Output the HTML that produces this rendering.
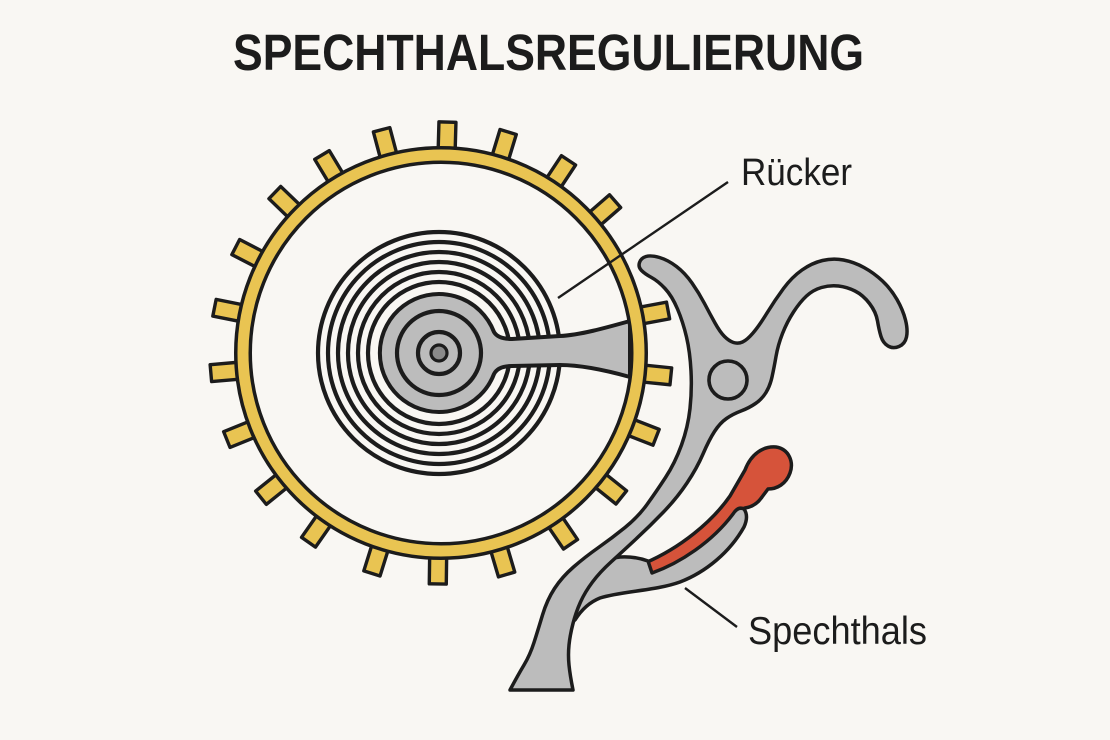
<!DOCTYPE html>
<html>
<head>
<meta charset="utf-8">
<style>
  html,body{margin:0;padding:0;background:#f9f7f3;}
  svg{display:block;}
</style>
</head>
<body>
<svg width="1110" height="740" viewBox="0 0 1110 740" xmlns="http://www.w3.org/2000/svg">
  <rect width="1110" height="740" fill="#f9f7f3"/>

  <!-- Title -->
  <text x="233" y="70" font-family="'Liberation Sans Narrow','Liberation Sans',sans-serif" font-weight="bold" font-size="51" fill="#1c1c1c" textLength="631" lengthAdjust="spacingAndGlyphs">SPECHTHALSREGULIERUNG</text>

  <!-- Teeth -->
  <g fill="#e9c452" stroke="#1c1c1c" stroke-width="3.4" stroke-linejoin="round">
    <rect x="-8.5" y="-231" width="17" height="28" transform="translate(441 353) rotate(1.6)"/>
    <rect x="-8.5" y="-231" width="17" height="28" transform="translate(441 353) rotate(-14.9)"/>
    <rect x="-8.5" y="-231" width="17" height="28" transform="translate(441 353) rotate(16.9)"/>
    <rect x="-8.5" y="-231" width="17" height="28" transform="translate(441 353) rotate(-31)"/>
    <rect x="-8.5" y="-231" width="17" height="28" transform="translate(441 353) rotate(33.5)"/>
    <rect x="-8.5" y="-231" width="17" height="28" transform="translate(441 353) rotate(-46)"/>
    <rect x="-8.5" y="-231" width="17" height="28" transform="translate(441 353) rotate(48.9)"/>
    <rect x="-8.5" y="-231" width="17" height="28" transform="translate(441 353) rotate(-62.7)"/>
    <rect x="-8.5" y="-231" width="17" height="28" transform="translate(441 353) rotate(-78.7)"/>
    <rect x="-8.5" y="-231" width="17" height="28" transform="translate(441 353) rotate(-95)"/>
    <rect x="-8.5" y="-231" width="17" height="28" transform="translate(441 353) rotate(-112)"/>
    <rect x="-8.5" y="-231" width="17" height="28" transform="translate(441 353) rotate(-128.8)"/>
    <rect x="-8.5" y="-231" width="17" height="28" transform="translate(441 353) rotate(-145)"/>
    <rect x="-8.5" y="-231" width="17" height="28" transform="translate(441 353) rotate(-162.6)"/>
    <rect x="-8.5" y="-231" width="17" height="28" transform="translate(441 353) rotate(180.8)"/>
    <rect x="-8.5" y="-231" width="17" height="28" transform="translate(441 353) rotate(163.5)"/>
    <rect x="-8.5" y="-231" width="17" height="28" transform="translate(441 353) rotate(145.9)"/>
    <rect x="-8.5" y="-231" width="17" height="28" transform="translate(441 353) rotate(128.7)"/>
    <rect x="-8.5" y="-231" width="17" height="28" transform="translate(441 353) rotate(111.4)"/>
    <rect x="-8.5" y="-231" width="17" height="28" transform="translate(441 353) rotate(95.8)"/>
    <rect x="-8.5" y="-231" width="17" height="28" transform="translate(441 353) rotate(79.4)"/>
  </g>

  <!-- Inner fill of wheel -->
  <circle cx="441" cy="353" r="190" fill="#f9f7f3"/>

  <!-- Hairspring rings -->
  <g fill="none" stroke="#1c1c1c" stroke-width="4.2">
    <circle cx="439" cy="353" r="121"/>
    <circle cx="439" cy="353" r="111"/>
    <circle cx="439" cy="353" r="101"/>
    <circle cx="439" cy="353" r="91"/>
    <circle cx="439" cy="353" r="81"/>
    <circle cx="439" cy="353" r="71"/>
  </g>

  <!-- Collet + arm -->
  <path d="M630 321 C605 328 580 335 560 336 L512 339 Q498 339 494 332 A59 59 0 1 0 494 374 Q498 366 512 366 L560 365 C580 365 605 370 630 377 Z"
        fill="#bcbcbc" stroke="#1c1c1c" stroke-width="4" stroke-linejoin="round"/>
  <circle cx="439" cy="353" r="42" fill="none" stroke="#1c1c1c" stroke-width="4.2"/>
  <circle cx="439" cy="353" r="21" fill="none" stroke="#1c1c1c" stroke-width="4.2"/>
  <circle cx="439" cy="353" r="8" fill="#8a8a8a" stroke="#1c1c1c" stroke-width="3.2"/>

  <!-- Wheel rim -->
  <circle cx="441" cy="353" r="198" fill="none" stroke="#1c1c1c" stroke-width="18"/>
  <circle cx="441" cy="353" r="198" fill="none" stroke="#e9c452" stroke-width="11"/>

  <!-- Red piece -->
  <path d="M645 563 C680 548 712 522 730 496 L745 470 C751 454 763 446 776 447 C789 449 794 462 790 473 C786 484 777 489 768 489 L762 497 C758 503 752 507 745 508 L735 512 C720 535 690 558 652 575 Z"
        fill="#d6533a" stroke="#1c1c1c" stroke-width="3.5" stroke-linejoin="round"/>

  <!-- Branch (Spechthals) -->
  <path d="M600 560 L620 557 Q634 556 648 561 L652 573 C680 563 712 542 733 514 Q738 506 744 509 Q749 516 744 527 C730 552 706 572 680 582 C655 591 622 591 600 598 Q585 604 575 620 L560 610 Z"
        fill="#bcbcbc" stroke="#1c1c1c" stroke-width="3.5" stroke-linejoin="round"/>

  <!-- Main lever -->
  <path d="M510 690 Q518 675 524 665 Q530 655 534 642.5 Q538 630 542.5 615 Q547 600 554.5 588.5 Q562 577 573.5 567 Q585 557 598.5 547.5 Q612 538 625 527.5 Q638 517 647 504.5 Q656 492 665.5 477.5 Q675 463 681.5 445 Q688 427 690 408.5 Q692 390 691 371 Q690 352 686.5 337 Q683 322 677.5 309 Q672 296 665 288.5 Q658 281 651.5 277.5 Q645 274 641.5 270.5 Q638 267 639.5 262.5 Q641 258 646 256.5 Q651 255 659.5 257.5 Q668 260 676.5 266.5 Q685 273 692 283 Q699 293 704.5 303.5 Q710 314 715 323 Q720 332 724.5 336.5 Q729 341 733.5 342.5 Q738 344 742.5 342 Q747 340 753 333 Q759 326 767 313 Q775 300 783.5 288.5 Q792 277 802 270 Q812 263 822.5 260.5 Q833 258 843.5 260 Q854 262 864 267.5 Q874 273 882.5 281 Q891 289 897 299.5 Q903 310 905.5 320 Q908 330 906.5 337 Q905 344 899 346.5 Q893 349 888 346 Q883 343 881 336.5 Q879 330 877.5 321 Q876 312 869.5 303.5 Q863 295 855 291 Q847 287 838.5 286 Q830 285 821.5 287.5 Q813 290 806.5 296 Q800 302 793.5 312 Q787 322 782.5 333.5 Q778 345 776 356.5 Q774 368 772 377 Q770 386 766 392.5 Q762 399 755.5 403.5 Q749 408 741 411 Q733 414 726.5 418.5 Q720 423 714.5 431.5 Q709 440 703 454 Q697 468 687 483 Q677 498 663.5 512 Q650 526 636 539 Q622 552 611 562 Q600 572 592.5 582 Q585 592 580.5 602 Q576 612 573 623.5 Q570 635 569 645 Q568 655 569 665 Q570 675 573 690 Z"
        fill="#bcbcbc" stroke="#1c1c1c" stroke-width="3.5" stroke-linejoin="round"/>
  <circle cx="728" cy="380" r="19" fill="#bcbcbc" stroke="#1c1c1c" stroke-width="3.6"/>

  <!-- Leader lines -->
  <line x1="558" y1="298" x2="728" y2="182" stroke="#1c1c1c" stroke-width="2.4"/>
  <line x1="685" y1="588" x2="737" y2="627" stroke="#1c1c1c" stroke-width="2.4"/>

  <!-- Labels -->
  <text x="741" y="185" font-family="'Liberation Sans Narrow','Liberation Sans',sans-serif" font-size="38" fill="#1c1c1c" textLength="111" lengthAdjust="spacingAndGlyphs">Rücker</text>
  <text x="748" y="644" font-family="'Liberation Sans Narrow','Liberation Sans',sans-serif" font-size="39" fill="#1c1c1c" textLength="179" lengthAdjust="spacingAndGlyphs">Spechthals</text>
</svg>
</body>
</html>
